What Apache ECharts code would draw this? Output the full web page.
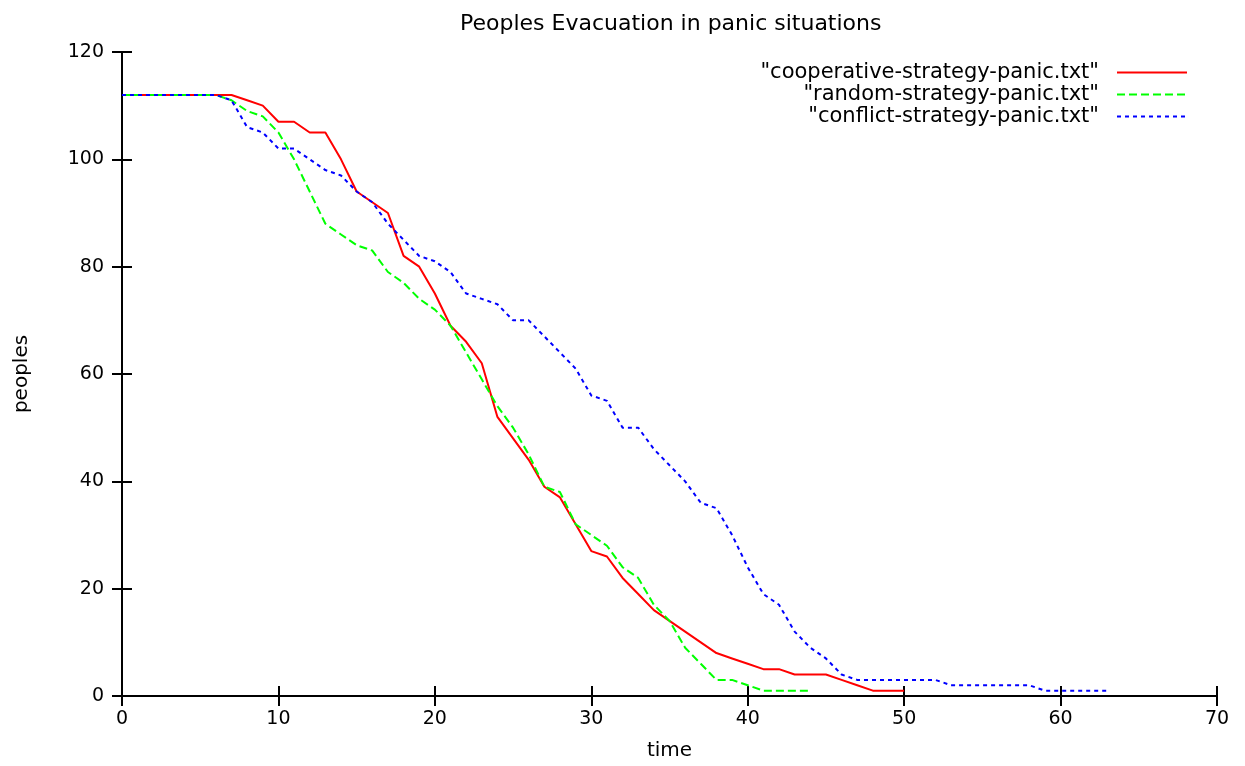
<!DOCTYPE html>
<html>
<head>
<meta charset="utf-8">
<script src="https://cdn.jsdelivr.net/npm/echarts@6/dist/echarts.min.js"></script>
<style>
html,body{margin:0;padding:0;background:#fff;}
#chart{width:1245px;height:766px;}
</style>
</head>
<body>
<div id="chart"></div>
<script>
// Data (value at each integer time step, starting at t = 0)
const titleText = 'Peoples Evacuation in panic situations';
const xName = 'time';
const yName = 'peoples';
const seriesNames = ['"cooperative-strategy-panic.txt"', '"random-strategy-panic.txt"', '"conflict-strategy-panic.txt"'];

const cooperative = [112,112,112,112,112,112,112,112,111,110,
  107,107,105,105,100,94,92,90,82,80,
  75,69,66,62,52,48,44,39,37,32,
  27,26,22,19,16,14,12,10,8,7,
  6,5,5,4,4,4,3,2,1,1,
  1];
const random = [112,112,112,112,112,112,112,111,109,108,
  105,100,94,88,86,84,83,79,77,74,
  72,69,64,59,54,50,45,39,38,32,
  30,28,24,22,17,14,9,6,3,3,
  2,1,1,1,1];
const conflict = [112,112,112,112,112,112,112,111,106,105,
  102,102,100,98,97,94,92,88,85,82,
  81,79,75,74,73,70,70,67,64,61,
  56,55,50,50,46,43,40,36,35,30,
  24,19,17,12,9,7,4,3,3,3,
  3,3,3,2,2,2,2,2,2,1,
  1,1,1,1];

const xTicks = {min: 0, max: 70, interval: 10};
const yTicks = {min: 0, max: 120, interval: 20};

function pairs(arr) { return arr.map((v, i) => [i, v]); }

const FONT = 'DejaVu Sans';
const chart = echarts.init(document.getElementById('chart'));

const axisLine = {show: true, lineStyle: {color: '#000', width: 2}};
const tick = {show: true, inside: true, length: 10, lineStyle: {color: '#000', width: 2}};

const legendBase = {
  orient: 'vertical', right: 57, align: 'right', itemWidth: 70, itemHeight: 12,
  padding: 0, itemGap: 0,
  itemStyle: {opacity: 0, borderWidth: 0},
  textStyle: {fontFamily: FONT, fontSize: 21, color: '#000', padding: [0, 13, 0, 0]}
};

chart.setOption({
  animation: false,
  backgroundColor: '#fff',
  title: {text: titleText, left: 455, top: 8, padding: 5,
    textStyle: {fontFamily: FONT, fontSize: 22, fontWeight: 'normal', color: '#000'}},
  legend: [
    Object.assign({}, legendBase, {top: 62, data: [seriesNames[0]]}),
    Object.assign({}, legendBase, {top: 84, data: [seriesNames[1]]}),
    Object.assign({}, legendBase, {top: 106, data: [seriesNames[2]]})
  ],
  grid: {left: 122, right: 28, top: 52, bottom: 68, containLabel: false},
  xAxis: [
    {type: 'value', position: 'bottom', min: xTicks.min, max: xTicks.max, interval: xTicks.interval,
      name: xName, nameLocation: 'middle', nameGap: 45,
      nameTextStyle: {fontFamily: FONT, fontSize: 20, color: '#000'},
      axisLine: axisLine, axisTick: tick, splitLine: {show: false},
      axisLabel: {fontFamily: FONT, fontSize: 19, color: '#000', margin: 14}},
    {type: 'value', position: 'top', min: xTicks.min, max: xTicks.max, interval: xTicks.interval,
      axisLine: axisLine, axisTick: tick, splitLine: {show: false}, axisLabel: {show: false}}
  ],
  yAxis: [
    {type: 'value', position: 'left', min: yTicks.min, max: yTicks.max, interval: yTicks.interval,
      name: yName, nameLocation: 'middle', nameGap: 90,
      nameTextStyle: {fontFamily: FONT, fontSize: 20, color: '#000'},
      axisLine: axisLine, axisTick: tick, splitLine: {show: false},
      axisLabel: {fontFamily: FONT, fontSize: 19, color: '#000', margin: 18}},
    {type: 'value', position: 'right', min: yTicks.min, max: yTicks.max, interval: yTicks.interval,
      axisLine: axisLine, axisTick: tick, splitLine: {show: false}, axisLabel: {show: false}}
  ],
  series: [
    {name: seriesNames[0], type: 'line', data: pairs(cooperative), symbol: 'none',
      lineStyle: {color: '#ff0000', width: 2, type: 'solid'}, itemStyle: {color: '#ff0000'}},
    {name: seriesNames[1], type: 'line', data: pairs(random), symbol: 'none',
      lineStyle: {color: '#00ff00', width: 2, type: [8, 4]}, itemStyle: {color: '#00ff00'}},
    {name: seriesNames[2], type: 'line', data: pairs(conflict), symbol: 'none',
      lineStyle: {color: '#0000ff', width: 2, type: [4, 4]}, itemStyle: {color: '#0000ff'}}
  ]
});
</script>
</body>
</html>
